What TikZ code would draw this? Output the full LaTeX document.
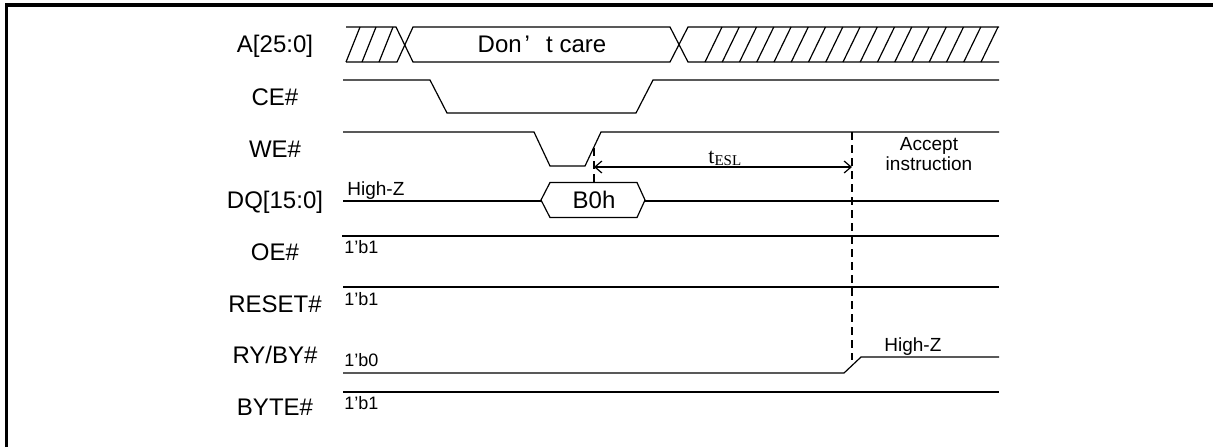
\documentclass[tikz,border=0pt]{standalone}
\usepackage{fontspec}
\setmainfont{Liberation Sans}
\newfontfamily\tfont{Liberation Serif}
\usetikzlibrary{arrows.meta}
\begin{document}
\begin{tikzpicture}[x=0.5pt,y=-0.5pt,
  sig/.style={line width=0.6pt, line join=miter},
  lbl/.style={font=\fontsize{12}{14}\selectfont, inner sep=0pt, anchor=base},
  small/.style={font=\fontsize{9}{11}\selectfont, inner sep=0pt, anchor=base west},
  note/.style={font=\fontsize{9.5}{12}\selectfont, inner sep=0pt, anchor=base},
  guide/.style={line width=0.6pt, dash pattern=on 4pt off 2.5pt},
  dim/.style={line width=0.6pt, {Straight Barb[length=3.5pt,width=6pt]}-{Straight Barb[length=3.5pt,width=6pt]}}]
\useasboundingbox (0,0) rectangle (1213,447);
% frame
\draw[line width=1.7pt] (6.7,447) -- (6.7,5) -- (1213,5);
% signal names
\node[lbl] (lA) at (275,52) {A[25:0]};
\node[lbl] (lCE) at (275,105) {CE\#};
\node[lbl] (lWE) at (275,157) {WE\#};
\node[lbl] (lDQ) at (275,208) {DQ[15:0]};
\node[lbl] (lOE) at (275,260) {OE\#};
\node[lbl] (lRS) at (275,312) {RESET\#};
\node[lbl] (lRY) at (275,363) {RY/BY\#};
\node[lbl] (lBY) at (275,415) {BYTE\#};
% A[25:0]
\draw[sig] (346,27) -- (396,27) -- (413,62) -- (670,62) -- (688,27) -- (999,27);
\draw[sig] (346,62) -- (397,62) -- (413,27) -- (670,27) -- (688,62) -- (999,62);
\foreach \b in {346,362,379} \draw[sig] (\b,62) -- ({\b+14},27);
\foreach \i in {0,...,16} \draw[sig] ({705+17.25*\i},62) -- ({722+17.25*\i},27);
\node[lbl] (dc) at (542,52) {Don\hspace{0.12em}’\hspace{0.68em}t care};
% CE#
\draw[sig] (343,80) -- (430,80) -- (447,113) -- (636,113) -- (653,80) -- (999,80);
% WE#
\draw[sig] (343,132) -- (534,132) -- (550,166) -- (585,166) -- (601,132) -- (999,132);
% DQ
\draw[sig] (343,201) -- (541,201);
\draw[sig] (541,200) -- (550,182.5) -- (637,182.5) -- (645,200) -- (637,217.5) -- (550,217.5) -- cycle;
\draw[sig] (645,201) -- (999,201);
\node[lbl] (b0h) at (594,208) {B0h};
\node[small, font=\fontsize{9.5}{11}\selectfont] (hz1) at (347,195) {High-Z};
% OE#, RESET#
\draw[sig] (342,236) -- (999,236);
\node[small] (oe1) at (344,253) {1'b1};
\draw[sig] (343,287) -- (999,287);
\node[small] (rs1) at (344,305) {1'b1};
% RY/BY#
\draw[sig] (343,373) -- (844,373) -- (861,357) -- (999,357);
\node[small] (ry0) at (344,366) {1'b0};
\node[small, font=\fontsize{9.5}{11}\selectfont] (hz2) at (884,351) {High-Z};
% BYTE#
\draw[sig] (343,392) -- (999,392);
\node[small] (by1) at (344,409) {1'b1};
% timing
\coordinate (tl) at (594,167);
\coordinate (tr) at (852,167);
\draw[guide] (594,148) -- (594,183);
\draw[guide] (852,132) -- (852,360);
\draw[dim] (tl) -- (tr);
\node[inner sep=0pt, anchor=base west] (tesl) at (708,163) {\tfont\fontsize{11}{12}\selectfont t\raisebox{-1pt}{\fontsize{7.5}{8}\selectfont ESL}};
\node[note] (acc1) at (929,150) {Accept};
\node[note] (acc2) at (929,170) {instruction};
\end{tikzpicture}
\end{document}
